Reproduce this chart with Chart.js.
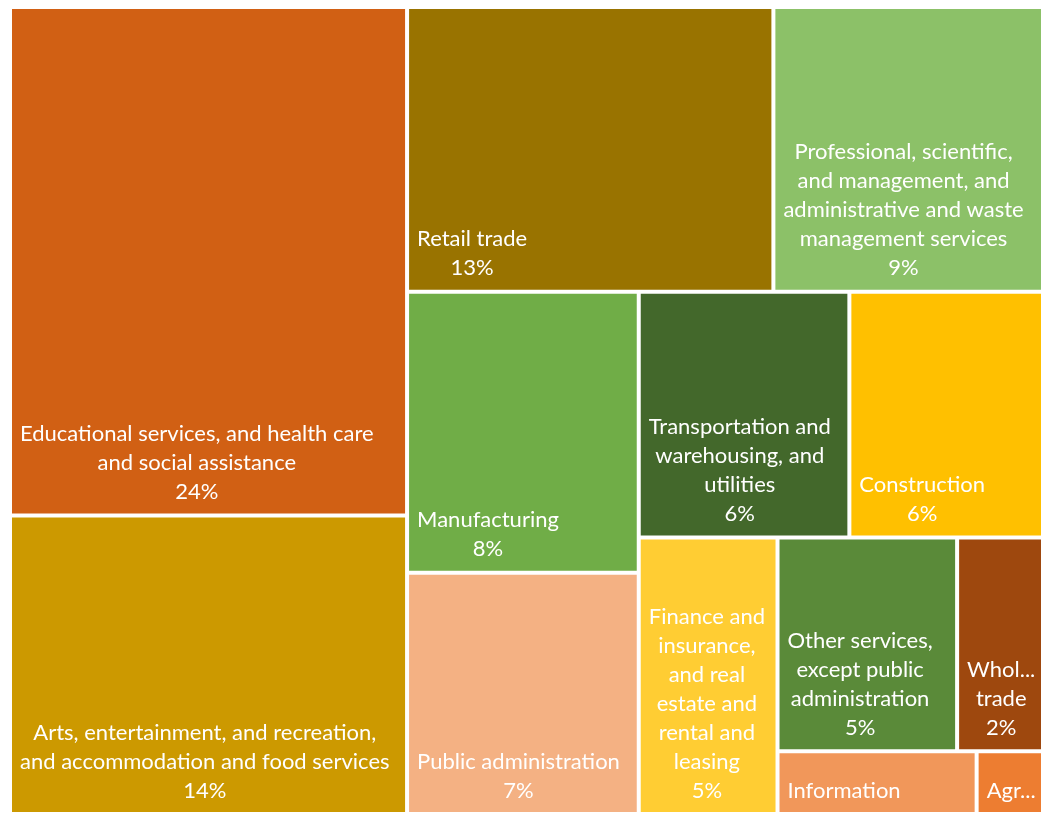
<!DOCTYPE html>
<html>
<head>
<meta charset="utf-8">
<script src="https://cdn.jsdelivr.net/npm/chart.js@4.4.1/dist/chart.umd.min.js"></script>
<style>
html,body{margin:0;padding:0;background:#fff;}
#wrap{width:1045px;height:825px;position:relative;}
</style>
</head>
<body>
<div id="wrap"><canvas id="tree"></canvas></div>
<script>
// ================= DATA =================
const industries = [
"Educational services, and health care and social assistance",
"Arts, entertainment, and recreation, and accommodation and food services",
"Retail trade",
"Professional, scientific, and management, and administrative and waste management services",
"Manufacturing",
"Public administration",
"Transportation and warehousing, and utilities",
"Construction",
"Finance and insurance, and real estate and rental and leasing",
"Other services, except public administration",
"Wholesale trade",
"Information",
"Agriculture, forestry, fishing and hunting, and mining"
];

const shares = [24.2, 14.2, 12.5, 9.2, 7.8, 6.7, 6.2, 5.7, 4.6, 4.6, 2.2, 1.5, 0.5];

const colors = [
"#D16014","#CC9900","#997300","#8CC168","#70AD47","#F4B183","#43682B",
"#FFC000","#FFCD33","#5A8A39","#9E480E","#F1975A","#ED7D31"
];

const LABEL_FONT = "22px Lato";
const LINE_H = 29;


// ================= LAYOUT (strips, biggest cell as square as possible) =================
function firstAspect(a, s, side){
let t = s/side;
let len = a/t;
return Math.max(t/len, len/t);
}

function layoutTreemap(vals, rect){
let total = vals.reduce((a,b)=>a+b,0);
let k = rect.w*rect.h/total;
let areas = vals.map(v=>v*k);
let out = [];
let r = {x:rect.x, y:rect.y, w:rect.w, h:rect.h};
let i = 0;

while(i < areas.length){
let vertical = r.w >= r.h;
let side = vertical ? r.h : r.w;
let sum = areas[i];
let best = firstAspect(areas[i], sum, side);
let j = i+1;
while(j < areas.length){
let a = firstAspect(areas[i], sum+areas[j], side);
if(a > best) break;
best = a; sum += areas[j]; j++;
}
let thick = sum/side;
let off = 0;
for(let n=i;n<j;n++){
let len = areas[n]/thick;
if(vertical) out[n] = {x:r.x, y:r.y+off, w:thick, h:len};
else out[n] = {x:r.x+off, y:r.y, w:len, h:thick};
off += len;
}
if(vertical) r = {x:r.x+thick, y:r.y, w:r.w-thick, h:r.h};
else r = {x:r.x, y:r.y+thick, w:r.w, h:r.h-thick};
i = j;
}
return out;
}


// ================= CONTROLLER =================
class TreemapController extends Chart.DatasetController {
update(mode){
let meta = this._cachedMeta;
this.updateElements(meta.data, 0, meta.data.length, mode);
}
updateElements(rects, start, count, mode){
let meta = this._cachedMeta;
let xs = meta.xScale, ys = meta.yScale;
let pw = Math.abs(xs.getPixelForValue(1) - xs.getPixelForValue(0));
let ph = Math.abs(ys.getPixelForValue(1) - ys.getPixelForValue(0));
let vals = this.getDataset().data;
let cells = layoutTreemap(vals, {x:0, y:0, w:pw, h:ph});

for(let i=start;i<start+count;i++){
let c = cells[i];
let l = xs.getPixelForValue(c.x/pw);
let r = xs.getPixelForValue((c.x+c.w)/pw);
let t = ys.getPixelForValue(c.y/ph);
let b = ys.getPixelForValue((c.y+c.h)/ph);
this.updateElement(rects[i], i, {
x:(l+r)/2, y:t, base:b, width:r-l, height:b-t,
horizontal:false,
borderSkipped:{top:false,bottom:false,left:false,right:false},
enableBorderRadius:false,
inflateAmount:0,
options:this.resolveDataElementOptions(i, mode)
}, mode);
}
}
}
TreemapController.id = "treemap";
TreemapController.defaults = {datasetElementType:false, dataElementType:"bar"};
Chart.register(TreemapController);


// ================= LABELS =================
function fitWord(ctx, word, maxW){
if(ctx.measureText(word).width <= maxW) return word;
let w = word;
while(w.length > 1 && ctx.measureText(w+"...").width > maxW) w = w.slice(0,-1);
return w+"...";
}

function wrapText(ctx, text, maxW){
let words = text.split(" ");
let lines = [];
let cur = "";
words.forEach(wd=>{
let test = cur ? cur+" "+wd : wd;
if(ctx.measureText(test).width <= maxW){ cur = test; }
else{
if(cur) lines.push(cur);
cur = fitWord(ctx, wd, maxW);
}
});
if(cur) lines.push(cur);
return lines;
}

const labelPlugin = {
id:"cellLabels",
afterDatasetsDraw(chart){
let ctx = chart.ctx;
let meta = chart.getDatasetMeta(0);
let vals = chart.data.datasets[0].data;
let total = vals.reduce((a,b)=>a+b,0);
ctx.save();
ctx.font = LABEL_FONT;
ctx.fillStyle = "#FFFFFF";
ctx.textAlign = "center";
ctx.textBaseline = "middle";

meta.data.forEach((el,i)=>{
let bw = 2;
let left = el.x - el.width/2 + bw;
let right = el.x + el.width/2 - bw;
let top = el.y + bw;
let bottom = el.base - bw;
let padL = 8, padR = 5.3, padY = 7;
let maxW = right - left - padL - padR;
let lines = wrapText(ctx, chart.data.labels[i], maxW);
lines.push(Math.round(vals[i]/total*100)+"%");
let maxLines = Math.floor((bottom - top - 2*padY)/LINE_H);
lines = lines.slice(0, Math.max(0,maxLines));
if(!lines.length) return;
let blockW = Math.max(...lines.map(s=>ctx.measureText(s).width));
let cx = left + padL + blockW/2;
lines.forEach((s,n)=>{
let cy = bottom - padY - LINE_H/2 - (lines.length-1-n)*LINE_H;
ctx.fillText(s, cx, cy);
});
});
ctx.restore();
}
};


// ================= CHART =================
new Chart(document.getElementById("tree"),{
type:"treemap",
data:{
labels:industries,
datasets:[{
data:shares,
backgroundColor:colors,
borderColor:"#FFFFFF",
borderWidth:2
}]
},
options:{
responsive:true,
maintainAspectRatio:false,
animation:false,
layout:{padding:{left:10, top:7, right:2, bottom:11}},
scales:{
x:{type:"linear", min:0, max:1, display:false},
y:{type:"linear", min:0, max:1, reverse:true, display:false}
},
plugins:{legend:{display:false}, tooltip:{enabled:false}}
},
plugins:[labelPlugin]
});
</script>
</body>
</html>
